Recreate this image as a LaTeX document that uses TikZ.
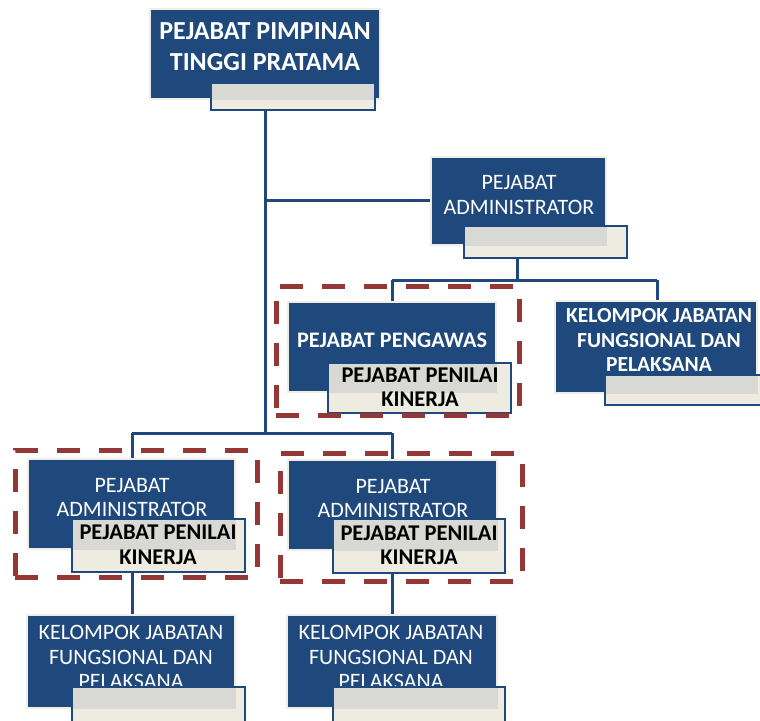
\documentclass[tikz,border=0pt]{standalone}
\usepackage{fontspec}
\setmainfont{Carlito}
\usetikzlibrary{fit,backgrounds}
\definecolor{navy}{RGB}{31,73,125}
\definecolor{cream}{RGB}{238,236,225}
\definecolor{grayband}{RGB}{216,217,213}
\definecolor{edge}{RGB}{240,238,228}
\definecolor{dred}{RGB}{149,55,53}
\begin{document}
\begin{tikzpicture}[x=1pt,y=-1pt,
  bluebox/.style={fill=navy, draw=edge, line width=1.8pt, inner sep=0pt},
  subbox/.style={fill=cream, draw=navy, line width=2.4pt, inner sep=0pt,
    path picture={\fill[grayband] (#1.south west) rectangle (#1.north east);}},
  conn/.style={draw=navy, line width=3pt},
  groupbox/.style={draw=dred, line width=5pt, dash pattern=on 23pt off 19pt, inner sep=0pt},
  wtext/.style={text=white, align=center, inner sep=0pt},
  ktext/.style={text=black, align=center, inner sep=0pt, font=\fontsize{22.5}{24.5}\selectfont\bfseries},
  regtext/.style={wtext, font=\fontsize{22}{24.5}\selectfont},
  kelreg/.style={wtext, font=\fontsize{22}{24.5}\selectfont}
]
\useasboundingbox (0,0) rectangle (760,720);

% top
\node[bluebox, fit={(150,9) (380,99)}] (T) {};
\node[wtext, font=\fontsize{26}{31}\selectfont\bfseries] (Tt) at (265,47) {PEJABAT PIMPINAN\\TINGGI PRATAMA};
\node[subbox=T, fit={(211,83) (375,110)}] (TS) {};

% administrator (right)
\node[bluebox, fit={(431,157) (606,245)}] (A1) {};
\node[regtext] (A1t) at (519,195) {PEJABAT\\ADMINISTRATOR};
\node[subbox=A1, fit={(464,226) (627,258)}] (A1S) {};

% pengawas
\node[bluebox, fit={(288,302) (496,392)}] (P) {};
\node[wtext, font=\fontsize{22.2}{26}\selectfont\bfseries] (Pt) at (392,340) {PEJABAT PENGAWAS};
\node[subbox=P, fit={(328,363) (511,413)}] (PS) {};
\node[ktext] (PSt) at (420,387.5) {PEJABAT PENILAI\\KINERJA};

% kelompok (right)
\node[bluebox, fit={(555,301) (757,393)}] (K1) {};
\node[wtext, font=\fontsize{21.5}{24.5}\selectfont\bfseries] (K1t) at (659,340.5) {KELOMPOK JABATAN\\FUNGSIONAL DAN\\PELAKSANA};
\node[subbox=K1, fit={(605,375) (770,405)}] (K1S) {};

% administrator bottom left
\node[bluebox, fit={(28,459) (235,549)}] (A2) {};
\node[regtext] (A2t) at (132,497.5) {PEJABAT\\ADMINISTRATOR};
\node[subbox=A2, fit={(72,519) (245,572)}] (A2S) {};
\node[ktext] (A2St) at (158,545) {PEJABAT PENILAI\\KINERJA};

% administrator bottom right
\node[bluebox, fit={(288,460) (497,550)}] (A3) {};
\node[regtext] (A3t) at (393,498.5) {PEJABAT\\ADMINISTRATOR};
\node[subbox=A3, fit={(333,519) (505,573)}] (A3S) {};
\node[ktext] (A3St) at (419,545.5) {PEJABAT PENILAI\\KINERJA};

% kelompok bottom
\node[bluebox, fit={(27,615) (235,708)}] (K2) {};
\node[kelreg] (K2t) at (131,657) {KELOMPOK JABATAN\\FUNGSIONAL DAN\\PELAKSANA};
\node[subbox=K2, fit={(72,687) (245,730)}] (K2S) {};

\node[bluebox, fit={(287,615) (497,708)}] (K3) {};
\node[kelreg] (K3t) at (391,657) {KELOMPOK JABATAN\\FUNGSIONAL DAN\\PELAKSANA};
\node[subbox=K3, fit={(333,687) (505,730)}] (K3S) {};

% dashed groups
\node[groupbox, fit={(276,286) (519,415)}] (D1) {};
\node[groupbox, fit={(15,450) (257,577)}] (D2) {};
\node[groupbox, fit={(280,453) (522,581)}] (D3) {};

% connectors
\coordinate (J1) at (265,200);
\coordinate (J2) at (265,433);
\coordinate (B0) at (517,280);
\coordinate (B1) at (392,280);
\coordinate (B2) at (657,280);
\coordinate (C1) at (132,433);
\coordinate (C2) at (392,433);
\begin{scope}[on background layer]
\fill[white] (0,0) rectangle (760,720);
\draw[conn] (TS.south -| J1) -- (J2);
\draw[conn] (J1) -- (J1 -| A1.west);
\draw[conn] (B0 |- A1S.south) -- (B0);
\draw[conn] (B1) -- (B2);
\draw[conn] (B1) -- (B1 |- P.north);
\draw[conn] (B2) -- (B2 |- K1.north);
\draw[conn] (C1) -- (C2);
\draw[conn] (C1) -- (C1 |- A2.north);
\draw[conn] (C2) -- (C2 |- A3.north);
\draw[conn] (C1 |- A2S.south) -- (C1 |- K2.north);
\draw[conn] (C2 |- A3S.south) -- (C2 |- K3.north);
\end{scope}
\end{tikzpicture}
\end{document}
